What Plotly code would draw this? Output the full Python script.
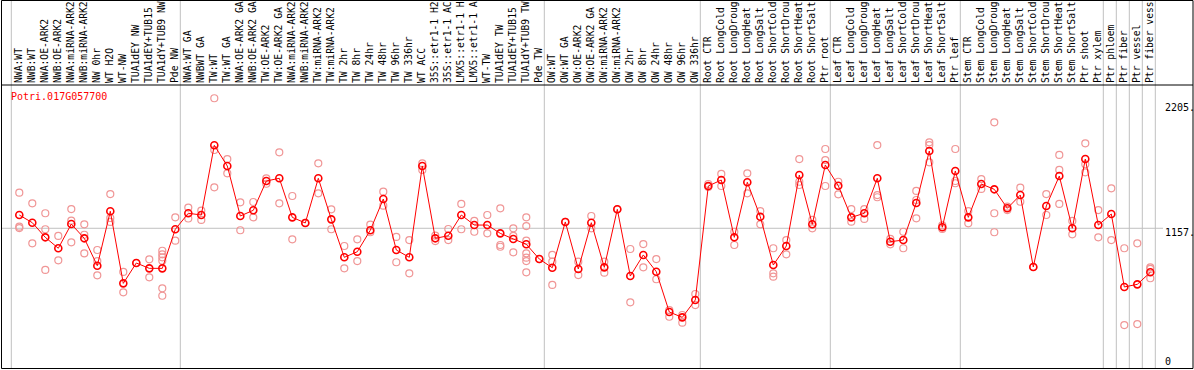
import plotly.graph_objects as go

# ---------------- data ----------------
gene_id = "Potri.017G057700"

categories = [
    "NWA:WT", "NWB:WT", "NWA:OE-ARK2", "NWB:OE-ARK2", "NWA:miRNA-ARK2", "NWB:miRNA-ARK2",
    "NW 0hr", "WT H2O", "WT-NW", "TUA1dEY NW", "TUA1dEY+TUB15", "TUA1dY+TUB9 NW", "Pde NW",
    "NWA:WT GA", "NWBWT GA", "TW:WT", "TW:WT GA", "NWA:OE-ARK2 GA", "NWB:OE-ARK2 GA",
    "TW:OE-ARK2", "TW:OE-ARK2 GA", "NWA:miRNA-ARK2", "NWB:miRNA-ARK2", "TW:miRNA-ARK2",
    "TW:miRNA-ARK2", "TW 2hr", "TW 8hr", "TW 24hr", "TW 48hr", "TW 96hr", "TW 336hr",
    "WT ACC", "35S::etr1-1 H2", "35S::etr1-1 AC", "LMX5::etr1-1 H", "LMX5::etr1-1 A",
    "WT-TW", "TUA1dEY TW", "TUA1dEY+TUB15", "TUA1dY+TUB9 TW", "Pde TW",
    "OW:WT", "OW:WT GA", "OW:OE-ARK2", "OW:OE-ARK2 GA", "OW:miRNA-ARK2", "OW:miRNA-ARK2",
    "OW 2hr", "OW 8hr", "OW 24hr", "OW 48hr", "OW 96hr", "OW 336hr",
    "Root CTR", "Root LongCold", "Root LongDroug", "Root LongHeat", "Root LongSalt",
    "Root ShortCold", "Root ShortDrou", "Root ShortHeat", "Root ShortSalt", "Ptr root",
    "Leaf CTR", "Leaf LongCold", "Leaf LongDroug", "Leaf LongHeat", "Leaf LongSalt",
    "Leaf ShortCold", "Leaf ShortDrou", "Leaf ShortHeat", "Leaf ShortSalt", "Ptr leaf",
    "Stem CTR", "Stem LongCold", "Stem LongDroug", "Stem LongHeat", "Stem LongSalt",
    "Stem ShortCold", "Stem ShortDrou", "Stem ShortHeat", "Stem ShortSalt", "Ptr shoot",
    "Ptr xylem", "Ptr phloem", "Ptr fiber", "Ptr vessel", "Ptr fiber vess",
]

group_sizes = [13, 28, 12, 10, 10, 11, 1, 1, 1, 1]

mean_values = [
    1264, 1202, 1084, 996, 1191, 1076, 855, 1294, 713, 877, 834, 834, 1149,
    1278, 1264, 1826, 1659, 1256, 1302, 1538, 1560, 1245, 1200, 1560, 1229, 923, 968,
    1141, 1393, 982, 923, 1659, 1076, 1097, 1264, 1183, 1183, 1116, 1071, 1028, 909,
    839, 1208, 829, 1202, 842, 1310, 772, 942, 807, 482, 439, 579,
    1498, 1546, 1084, 1528, 1250, 861, 1014, 1586, 1189, 1667,
    1500, 1245, 1278, 1560, 1049, 1062, 1361, 1780, 1165, 1619,
    1245, 1514, 1471, 1318, 1425, 845, 1337, 1578, 1157, 1715, 1183,
    1272, 684, 705, 802,
]

replicates = [
    [1444, 1170, 1159], [1358, 1036], [1278, 1149, 821], [1095, 899], [1312, 1218, 1044],
    [1189, 1105, 955], [982, 893, 778], [1433, 1240, 1208], [805, 641], [877],
    [907, 762], [976, 947, 923, 896, 673, 613], [1245, 1057],
    [1324, 1236], [1300, 1224], [2205, 1788, 1487], [1715, 1600], [1366, 1141],
    [1369, 1245], [1560, 1516], [1769, 1358], [1417, 1068], [1200], [1681, 1439],
    [1310, 1149], [1014, 834], [1068, 893], [1187, 1125], [1452, 1339], [1087, 883],
    [1062, 794], [1681, 1627], [1097, 1054], [1151, 1062], [1353, 1149], [1216, 1129],
    [1264, 1116], [1318, 1022, 1008], [1157, 1095, 963],
    [1245, 1175, 1057, 955, 920, 893, 802], [909],
    [942, 888, 700], [1208], [888, 780], [1256, 1157], [888, 799], [1310], [990, 560],
    [1030, 842], [909, 746], [498, 444], [458, 396], [627, 538],
    [1514, 1490], [1595, 1498], [1129, 1022], [1600, 1439], [1296, 1189],
    [996, 794, 767], [1062, 947], [1715, 1532, 1506], [1224, 1157], [1796, 1707, 1498],
    [1532, 1431], [1312, 1210], [1312, 1232], [1828, 1425, 1407], [1071, 1028],
    [1129, 996], [1458, 1385, 1237], [1850, 1828, 1689], [1151, 1180], [1796, 1538, 1520],
    [1296, 1197], [1554, 1474], [2011, 1278, 1125], [1331, 1304], [1484, 1371], [845],
    [1433, 1264], [1748, 1627, 1353], [1216, 1108], [1842, 1673, 1608], [1304, 1084],
    [1479, 1062], [996, 377], [1036, 385], [842, 829, 754],
]

ytick_values = [2205, 1157, 0]
ytick_labels = ["2205.", "1157.", "0"]
reference_value = 1157

# ---------------- layout geometry ----------------
W, H = 1194, 370
ML, MR, MT, MB = 1, 1, 85, 1
PW, PH = W - ML - MR, H - MT - MB
STEP = 13.0          # pixels per category
FIRST = 19.3         # pixel x of first category
x_range = [(ML - FIRST) / STEP, (ML - FIRST) / STEP + PW / STEP]
y_range = [22.6, 2312.0]

def px_x(p):
    return (p - ML) / PW

def px_y(p):
    return (H - MB - p) / PH

FONT = "DejaVu Sans Mono"
RED = "#ff0000"
PINK = "rgb(240,150,150)"
GRID = "#c0c0c0"

idx = list(range(len(categories)))
rep_x = [i for i, reps in enumerate(replicates) for _ in reps]
rep_y = [v for reps in replicates for v in reps]

fig = go.Figure()
fig.add_trace(go.Scatter(
    x=rep_x, y=rep_y, mode="markers",
    marker=dict(symbol="circle-open", size=7, color=PINK, line=dict(width=1.2, color=PINK)),
    hoverinfo="skip", showlegend=False,
))
fig.add_trace(go.Scatter(
    x=idx, y=mean_values, mode="lines+markers",
    line=dict(color=RED, width=1),
    marker=dict(symbol="circle-open", size=7, color=RED, line=dict(width=1.6, color=RED)),
    showlegend=False,
))

shapes = []
top_paper = px_y(0.5)
# group separators
ends = [-1]
acc = -1
for g in group_sizes[:-1]:
    acc += g
    ends.append(acc)
acc += group_sizes[-1]
ends.append(acc)
for e in ends:
    xs = e + 5.0 / STEP
    shapes.append(dict(type="line", xref="x", yref="paper", x0=xs, x1=xs, y0=0, y1=top_paper,
                       line=dict(color=GRID, width=1), layer="below"))
# reference horizontal line
shapes.append(dict(type="line", xref="x", yref="y", x0=x_range[0], x1=(1163 - FIRST) / STEP,
                   y0=reference_value, y1=reference_value, line=dict(color=GRID, width=1), layer="below"))
# frame
shapes.append(dict(type="rect", xref="paper", yref="paper", x0=px_x(1.5), x1=px_x(1193.0),
                   y0=px_y(368.5), y1=top_paper, line=dict(color="black", width=1)))
shapes.append(dict(type="line", xref="paper", yref="paper", x0=px_x(1.5), x1=px_x(1193.0),
                   y0=px_y(85.0), y1=px_y(85.0), line=dict(color="black", width=1)))

annotations = [dict(xref="paper", yref="paper", x=px_x(9), y=px_y(96.5), text=gene_id,
                    xanchor="left", yanchor="middle", showarrow=False,
                    font=dict(family=FONT, size=10, color=RED))]
label_centers = [107.5, 232.5, 361.5]
for lab, yc in zip(ytick_labels, label_centers):
    annotations.append(dict(xref="paper", yref="paper", x=px_x(1163), y=px_y(yc), text=lab,
                            xanchor="left", yanchor="middle", showarrow=False,
                            font=dict(family=FONT, size=10, color="black")))

fig.update_layout(
    width=W, height=H,
    margin=dict(l=ML, r=MR, t=MT, b=MB, pad=0),
    paper_bgcolor="white", plot_bgcolor="white",
    xaxis=dict(range=x_range, side="top", tickmode="array", tickvals=idx, ticktext=categories,
               tickangle=-90, ticks="", showgrid=False, zeroline=False, showline=False,
               ticklabelstandoff=1,
               tickfont=dict(family=FONT, size=9.7, color="black"), automargin=False),
    yaxis=dict(range=y_range, showticklabels=False, ticks="", showgrid=False,
               zeroline=False, showline=False, automargin=False),
    shapes=shapes, annotations=annotations,
)

fig.write_html("out.html", config={"displayModeBar": False},
               post_script="document.body.style.margin='0px';document.body.style.overflow='hidden';")
